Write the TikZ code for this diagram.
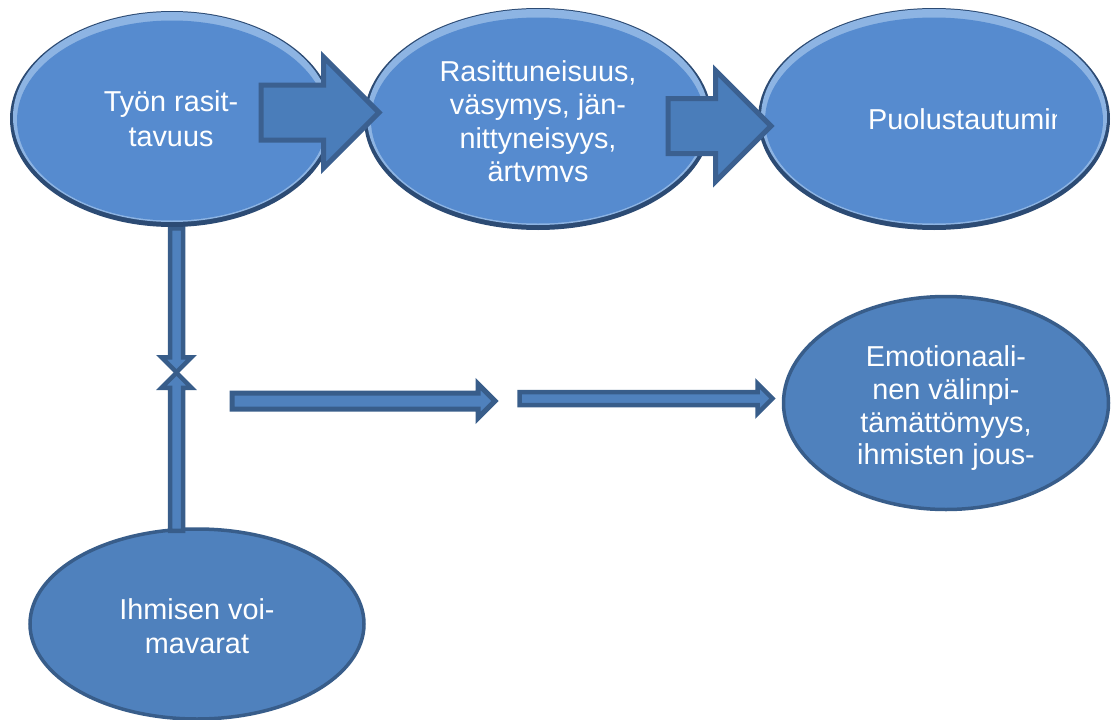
\documentclass[tikz,border=0pt]{standalone}
\usepackage{fontspec}
\setmainfont{Liberation Sans}
\usetikzlibrary{shapes.geometric,shapes.arrows}

\definecolor{sininen}{HTML}{4F81BD}
\definecolor{tumma}{HTML}{385D8A}
\definecolor{kirkas}{HTML}{568BCF}
\definecolor{valo}{HTML}{8DB4E3}
\definecolor{varjo}{HTML}{2C4B74}
\definecolor{nuoli}{HTML}{4A7DBA}
\definecolor{nuolireuna}{HTML}{3B6090}

\def \kuplat {rasitus/172/119/162/108,rasittuneisuus/538/119/174/111,puolustus/934/119/176/111}

\begin{document}
\begin{tikzpicture}
   [x=1pt, y=-1pt,
   teksti/.style={text=white, align=center, inner sep=0pt, font=\fontsize{28.8}{35}\selectfont},
   kupla/.style={ellipse, inner sep=0pt, draw=none},
   litea/.style={ellipse, inner sep=0pt, fill=sininen, draw=tumma, line width=3.5pt},
   isonuoli/.style={single arrow, fill=nuoli, draw=nuolireuna, line width=5pt, inner sep=25pt, single arrow head extend=28pt},
   ohutnuoli/.style={single arrow, fill=sininen, draw=tumma, line width=4.5pt, inner sep=4.25pt, single arrow head extend=8.5pt}]{
\useasboundingbox (0,0) rectangle (1112,720);

\node[litea, minimum width=334pt, minimum height=190pt] (voimavarat) at (197,624) {};
\node[litea, minimum width=325pt, minimum height=213pt] (emotio) at (946,403) {};

\node[ohutnuoli, rotate=-90, anchor=tail, minimum height=144pt] (alas) at (176.5,226) {};
\node[ohutnuoli, rotate=90, anchor=tail, minimum height=158pt] (ylos) at (176.5,533) {};

\foreach \nimi / \cx / \cy / \rx / \ry in \kuplat {
   \fill[varjo] (\cx,\cy) ellipse [x radius=\rx, y radius=\ry];
   \fill[valo] (\cx,\cy-2) ellipse [x radius=\rx-3, y radius=\ry-3];
   \fill[kirkas] (\cx,\cy+1.5) ellipse [x radius=\rx-7, y radius=\ry-8];
   \node[kupla, minimum width=2*\rx, minimum height=2*\ry] (\nimi) at (\cx,\cy) {};}

\node[isonuoli, anchor=tail, minimum height=118pt] (nuoli1) at (258.5,112.5) {};
\node[isonuoli, anchor=tail, minimum height=103pt] (nuoli2) at (665.5,126) {};

\node[ohutnuoli, anchor=tail, minimum height=263pt, line width=5pt, inner sep=5.5pt, single arrow head extend=9pt] (vaaka1) at (229.5,401) {};
\node[ohutnuoli, anchor=tail, minimum height=253pt] (vaaka2) at (517.25,398.5) {};

\node[teksti] (t1) at (171,119) {Työn rasit-\\tavuus};
\begin{scope}
   \clip (360,0) rectangle (720,181);
   \node[teksti, font=\fontsize{28.8}{33.3}\selectfont] (t2) at (538,124.2) {Rasittuneisuus,\\väsymys, jän-\\nittyneisyys,\\ärtymys};
\end{scope}
\begin{scope}
   \clip (850,0) rectangle (1056,240);
   \node[teksti, anchor=base west] (t3) at (868,129.5) {Puolustautumin};
\end{scope}
\node[teksti, font=\fontsize{28.8}{32.8}\selectfont] (t4) at (946,408.3) {Emotionaali-\\nen välinpi-\\tämättömyys,\\ihmisten jous-};
\node[teksti, font=\fontsize{28.8}{34}\selectfont] (t5) at (197,625.8) {Ihmisen voi-\\mavarat};
};
\end{tikzpicture}
\end{document}
